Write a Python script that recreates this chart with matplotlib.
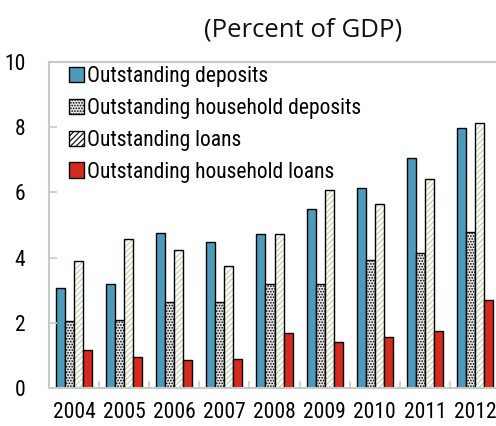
import matplotlib.pyplot as plt
import numpy as np
from matplotlib.patches import Patch
from matplotlib import font_manager as fm

years = ["2004", "2005", "2006", "2007", "2008", "2009", "2010", "2011", "2012"]
deposits = [3.06, 3.18, 4.76, 4.49, 4.72, 5.49, 6.13, 7.05, 7.97]
hh_deposits = [2.05, 2.10, 2.65, 2.65, 3.18, 3.18, 3.93, 4.13, 4.78]
loans = [3.90, 4.57, 4.24, 3.73, 4.72, 6.06, 5.65, 6.41, 8.14]
hh_loans = [1.17, 0.96, 0.85, 0.89, 1.69, 1.41, 1.57, 1.74, 2.69]
labels = ["Outstanding deposits", "Outstanding household deposits",
          "Outstanding loans", "Outstanding household loans"]


def pick_narrow():
    # look for a condensed sans; fall back to Liberation Sans at smaller size
    cands = [("Liberation Sans Narrow", "normal"), ("Arial Narrow", "normal"),
             ("Noto Sans", "extra-condensed"), ("Roboto Condensed", "normal"),
             ("Open Sans", "condensed"), ("Roboto", "condensed")]
    for fam, st in cands:
        try:
            path = fm.findfont(fm.FontProperties(family=fam, stretch=st),
                               fallback_to_default=False)
        except ValueError:
            continue
        name = path.lower()
        if "narrow" in name or "condensed" in name:
            return fam, st, 15.5
    return "Liberation Sans", "normal", 13


nfam, nstretch, nsize = pick_narrow()

blue = "#4d9bbb"
red = "#d42b1d"
green = "#bcd3a2"
plt.rcParams["hatch.linewidth"] = 0.8

fig = plt.figure(figsize=(4.96, 4.26), dpi=100)
ax = fig.add_axes([49 / 496, 38 / 426, 451 / 496, 326 / 426])

x = np.arange(len(years))
w = 0.18
ax.bar(x - 1.5 * w, deposits, w, color=blue, edgecolor="black", linewidth=1)

# household deposits: gray dotted fill
plt.rcParams["hatch.color"] = "#b3b3b3"
ax.bar(x - 0.5 * w, hh_deposits, w, color="#e6e6e6", edgecolor="black",
       linewidth=1, hatch="......")

# loans: white with green diagonal hatch
ax.bar(x + 0.5 * w, loans, w, color="white", edgecolor=green, linewidth=0,
       hatch="//////")
ax.bar(x + 0.5 * w, loans, w, fill=False, edgecolor="black", linewidth=1)

ax.bar(x + 1.5 * w, hh_loans, w, color=red, edgecolor="black", linewidth=1)

ax.set_xlim(-0.5, len(years) - 0.5)
ax.set_ylim(0, 10)
ax.set_yticks([0, 2, 4, 6, 8, 10])
ax.set_xticks(x)
ax.set_xticklabels(years)
ax.set_xticks(np.arange(len(years) + 1) - 0.5, minor=True)
ax.tick_params(axis="x", which="major", length=0, pad=10)
ax.tick_params(axis="x", which="minor", direction="in", length=5,
               color="#c8c8c8", width=1.2)
ax.tick_params(axis="y", direction="in", length=6, color="#c8c8c8",
               width=1.2, pad=17)
for lab in ax.get_xticklabels() + ax.get_yticklabels():
    lab.set_family(nfam)
    lab.set_stretch(nstretch)
    lab.set_fontsize(nsize)

for s in ["left", "bottom", "top"]:
    ax.spines[s].set_color("#c8c8c8")
    ax.spines[s].set_linewidth(1.5)
ax.spines["right"].set_visible(False)

handles = [
    Patch(facecolor=blue, edgecolor="black"),
    Patch(facecolor="#e6e6e6", edgecolor="black", hatch="......"),
    Patch(facecolor="white", edgecolor="black", hatch="//////"),
    Patch(facecolor=red, edgecolor="black"),
]
ax.legend(handles, labels, loc="upper left", bbox_to_anchor=(0.02, 1.02),
          frameon=False,
          prop=fm.FontProperties(family=nfam, stretch=nstretch, size=nsize),
          handlelength=0.7, handleheight=0.7, handletextpad=0.15,
          labelspacing=0.5, borderaxespad=0.1)

fig.text(303 / 496, 1 - 30 / 426, "(Percent of GDP)", ha="center",
         va="center", fontsize=18.5, family="Open Sans", color="#111111")

fig.savefig("out.png", dpi=100)
